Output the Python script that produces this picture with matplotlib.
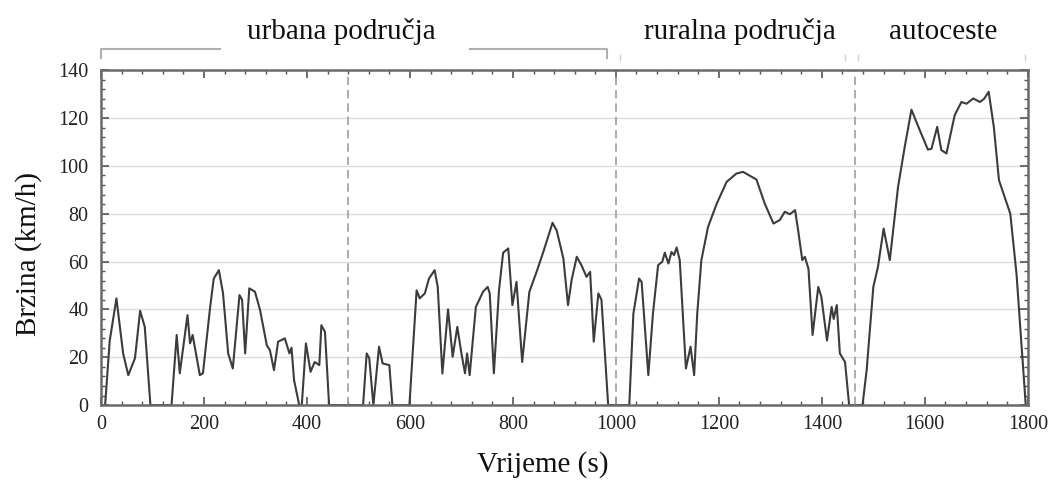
import matplotlib
matplotlib.use('Agg')
import matplotlib.pyplot as plt
import matplotlib.transforms as mtransforms
from matplotlib.ticker import MultipleLocator

# time (s) and speed (km/h)
time_s = [8, 17, 30, 43, 53, 66, 76, 85, 96, 137, 147, 153, 168, 173, 178, 192, 198, 212, 219, 229,
          237, 247, 256, 269, 274, 280, 288, 299, 309, 322, 328, 336, 344, 357, 366, 370, 375, 385, 390, 398,
          407, 415, 424, 428, 435, 443, 509, 516, 521, 529, 540, 547, 560, 566, 599, 613, 619, 629, 637, 648,
          654, 663, 674, 683, 692, 700, 707, 711, 716, 728, 742, 751, 755, 763, 773, 781, 791, 799, 807, 818,
          832, 846, 859, 877, 885, 898, 907, 914, 924, 933, 943, 950, 957, 966, 972, 985, 1026, 1034, 1045, 1050,
          1063, 1072, 1082, 1090, 1095, 1102, 1108, 1113, 1118, 1124, 1136, 1145, 1152, 1158, 1166, 1179, 1196, 1215, 1234, 1247,
          1273, 1289, 1306, 1318, 1328, 1338, 1348, 1354, 1362, 1367, 1374, 1382, 1393, 1399, 1410, 1419, 1423, 1429, 1435, 1445,
          1453, 1479, 1487, 1500, 1509, 1520, 1532, 1548, 1561, 1574, 1590, 1606, 1613, 1624, 1632, 1642, 1658, 1671, 1681, 1694,
          1707, 1715, 1724, 1734, 1744, 1755, 1766, 1778, 1788, 1796]
speed = [0, 27, 44.6, 21.6, 12.5, 19.6, 39.4, 32.7, 0, 0, 29.3, 13.3, 37.6, 25.8, 29.3, 12.5, 13.3, 41, 52.9, 56.4,
         46.7, 21.6, 15.3, 46, 44, 21.6, 48.8, 47.4, 39.7, 25, 23, 14.6, 26.5, 27.9, 21.6, 24, 10.4, 0, 0, 25.8,
         13.9, 18, 16.7, 33.4, 30.6, 0, 0, 21.6, 19.6, 0, 24.4, 17.4, 16.7, 0, 0, 48, 44.6, 46.7, 52.9, 56.4,
         49.4, 13.2, 40, 20.2, 32.7, 21.6, 13.3, 21.6, 12.5, 41, 47.4, 49.4, 46.7, 13.3, 48, 63.7, 65.5, 41.8, 51.5, 18,
         47.4, 55.7, 64, 76.2, 73, 61.3, 41.8, 52.3, 62, 58.5, 53.6, 55.7, 26.5, 46.7, 44, 0, 0, 38.3, 52.9, 51.5,
         12.5, 38.3, 58.5, 59.9, 63.7, 59.2, 64, 62.7, 65.9, 60.6, 15.3, 24.4, 12.5, 38.3, 60.6, 74.5, 84.3, 93.3, 96.8, 97.5,
         94.3, 84.3, 75.9, 77.3, 80.8, 79.8, 81.5, 73, 60.6, 62, 57, 29.3, 49.4, 45.3, 27, 41, 36, 41.8, 21.6, 18,
         0, 0, 14.6, 49.4, 57.8, 73.8, 60.6, 91.2, 108, 123.5, 115, 106.8, 107.2, 116.3, 106.6, 105.2, 121.2, 126.7, 126, 128.2,
         126.7, 128, 131, 116.3, 94, 87, 80, 55, 24.4, 0]

boundaries = [480, 1000, 1465]
region_names = ['urbana područja', 'ruralna područja', 'autoceste']
region_centers = [466, 1241, 1635]

plt.rcParams['font.family'] = ['Liberation Serif', 'DejaVu Serif']

fig = plt.figure(figsize=(10.52, 4.91), dpi=100)
ax = fig.add_axes([0.096, 0.175, 0.881, 0.682])

ax.plot(time_s, speed, color='#3c3c3c', lw=1.5, solid_joinstyle='round')
for b in boundaries:
    ax.axvline(b, color='#a0a0a0', lw=1.2, ls=(0, (5, 3)))

ax.set_xlim(0, 1800)
ax.set_ylim(0, 140)
ax.xaxis.set_major_locator(MultipleLocator(200))
ax.xaxis.set_minor_locator(MultipleLocator(40))
ax.yaxis.set_major_locator(MultipleLocator(20))
ax.yaxis.set_minor_locator(MultipleLocator(4))
ax.grid(axis='y', color='#dcdcdc', lw=1)
ax.set_axisbelow(True)

ax.tick_params(which='both', direction='in', top=True, right=True, color='#555555')
ax.tick_params(which='major', length=6, width=1.2, labelsize=14.5, labelcolor='#222222')
ax.tick_params(which='minor', length=3, width=1)
ax.tick_params(axis='x', pad=7)
ax.tick_params(axis='y', pad=9)
for sp in ax.spines.values():
    sp.set_color('#6a6a6a')
    sp.set_linewidth(1.8)

# region brackets above the plot
trans = mtransforms.blended_transform_factory(ax.transData, ax.transAxes)
bcol = '#b0b0b0'
ax.plot([0, 0, 231], [1.036, 1.063, 1.063], color=bcol, lw=1.5, transform=trans, clip_on=False)
ax.plot([716, 982, 982], [1.063, 1.063, 1.036], color=bcol, lw=1.5, transform=trans, clip_on=False)
for tx in [1008, 1445, 1470, 1795]:
    ax.plot([tx, tx], [1.03, 1.045], color='#cccccc', lw=1, transform=trans, clip_on=False)

for name, cx in zip(region_names, region_centers):
    ax.text(cx, 1.115, name, transform=trans, ha='center', va='center', fontsize=21, color='#111111')

fig.text(0.5155, 0.053, 'Vrijeme (s)', ha='center', va='center', fontsize=21, color='#111111')
fig.text(0.027, 0.483, 'Brzina (km/h)', ha='center', va='center', rotation=90, fontsize=21, color='#111111')

fig.savefig('out.png', dpi=100)
